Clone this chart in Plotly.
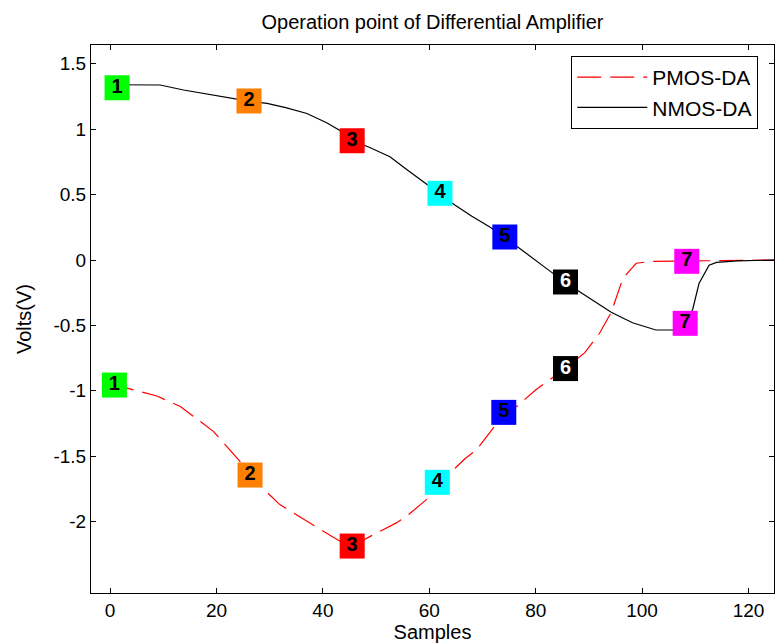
import plotly.graph_objects as go

# ---- data ----
nmos_x = [0, 3, 6, 9.4, 13.8, 17.6, 21.3, 26, 29.5, 33, 37, 40.7, 43.2, 45.5, 48.8, 52.6,
          55.5, 58.8, 62, 64.8, 68, 71.3, 74, 76.7, 79, 82, 85.5, 88.2, 92, 94.2, 98.2,
          102.6, 106, 108, 109.5, 110.7, 112.6, 114, 118, 125]
nmos_y = [1.34, 1.34, 1.34, 1.338, 1.30, 1.274, 1.249, 1.215, 1.198, 1.165, 1.12, 1.05,
          0.99, 0.915, 0.86, 0.79, 0.70, 0.60, 0.505, 0.42, 0.335, 0.255, 0.18, 0.10,
          0.03, -0.064, -0.17, -0.24, -0.344, -0.40, -0.48, -0.535, -0.535, -0.48, -0.38,
          -0.18, -0.04, -0.018, -0.006, 0.0]

pmos_x = [0, 3.2, 8.8, 13.2, 19.4, 24.4, 26, 31.9, 39.5, 43.2, 45.5, 48.8, 53.8, 56,
          60.1, 61.5, 66.7, 68.9, 72.3, 74, 76.4, 80.1, 85.5, 89.2, 92, 94.2, 96.4, 98.9,
          101.7, 108, 114, 125]
pmos_y = [-0.95, -0.98, -1.04, -1.12, -1.31, -1.54, -1.64, -1.87, -2.06, -2.15, -2.19,
          -2.115, -2.01, -1.95, -1.81, -1.72, -1.52, -1.45, -1.27, -1.17, -1.12, -0.99,
          -0.83, -0.71, -0.56, -0.40, -0.14, -0.025, -0.01, -0.005, -0.005, 0.0]

point_labels = ["1", "2", "3", "4", "5", "6", "7"]
point_colors = ["#00ff00", "#ff8000", "#ff0000", "#00ffff", "#0000ff", "#000000", "#ff00ff"]
point_text_colors = ["black", "black", "black", "black", "black", "white", "black"]

nmos_pt_x = [1.3, 26.1, 45.5, 62.0, 74.2, 85.6, 108.1]
nmos_pt_y = [1.317, 1.216, 0.912, 0.51, 0.176, -0.168, -0.484]
pmos_pt_x = [0.8, 26.3, 45.5, 61.5, 74.0, 85.6, 108.4]
pmos_pt_y = [-0.956, -1.644, -2.187, -1.70, -1.165, -0.83, -0.01]

x_tick_vals = [0, 20, 40, 60, 80, 100, 120]
y_tick_vals = [1.5, 1, 0.5, 0, -0.5, -1, -1.5, -2]
y_tick_text = ["1.5", "1", "0.5", "0", "-0.5", "-1", "-1.5", "-2"]

FONT = "Liberation Sans, Arial, sans-serif"

fig = go.Figure()
fig.add_trace(go.Scatter(x=pmos_x, y=pmos_y, mode="lines", name="PMOS-DA",
                         line=dict(color="#ff0000", width=1.2, dash="24px,9px")))
fig.add_trace(go.Scatter(x=nmos_x, y=nmos_y, mode="lines", name="NMOS-DA",
                         line=dict(color="#000000", width=1.2)))

for px, py in ((nmos_pt_x, nmos_pt_y), (pmos_pt_x, pmos_pt_y)):
    fig.add_trace(go.Scatter(
        x=px, y=py, mode="markers+text", text=point_labels,
        textposition="middle center", showlegend=False, hoverinfo="skip",
        marker=dict(symbol="square", size=25, color=point_colors, line=dict(width=0)),
        textfont=dict(family=FONT, size=20, color=point_text_colors, weight="bold"),
        cliponaxis=False))

axis_common = dict(showline=True, linecolor="black", linewidth=1, mirror="ticks",
                   ticks="inside", ticklen=5, tickcolor="black", showgrid=False,
                   zeroline=False, tickfont=dict(family=FONT, size=19, color="black"))

fig.update_layout(
    width=775, height=644,
    margin=dict(l=91, r=1, t=45, b=51),
    paper_bgcolor="white", plot_bgcolor="white",
    title=dict(text="Operation point of Differential Amplifier", x=0.5, xref="paper",
               y=1 - 22 / 644, yref="container", yanchor="middle", xanchor="center",
               font=dict(family=FONT, size=20, color="black")),
    xaxis=dict(range=[-3.6, 124.8], tickvals=x_tick_vals,
               title=dict(text="Samples", font=dict(family=FONT, size=20, color="black"),
                          standoff=3),
               **axis_common),
    yaxis=dict(range=[-2.546, 1.644], tickvals=y_tick_vals, ticktext=y_tick_text,
               title=dict(text="Volts(V)", font=dict(family=FONT, size=20, color="black"),
                          standoff=16),
               **axis_common),
    legend=dict(x=0.977, y=0.98, xanchor="right", yanchor="top",
                bgcolor="white", bordercolor="black", borderwidth=1,
                font=dict(family=FONT, size=21, color="black"),
                itemwidth=70, tracegroupgap=0),
    showlegend=True,
)

fig.write_html("out.html")
